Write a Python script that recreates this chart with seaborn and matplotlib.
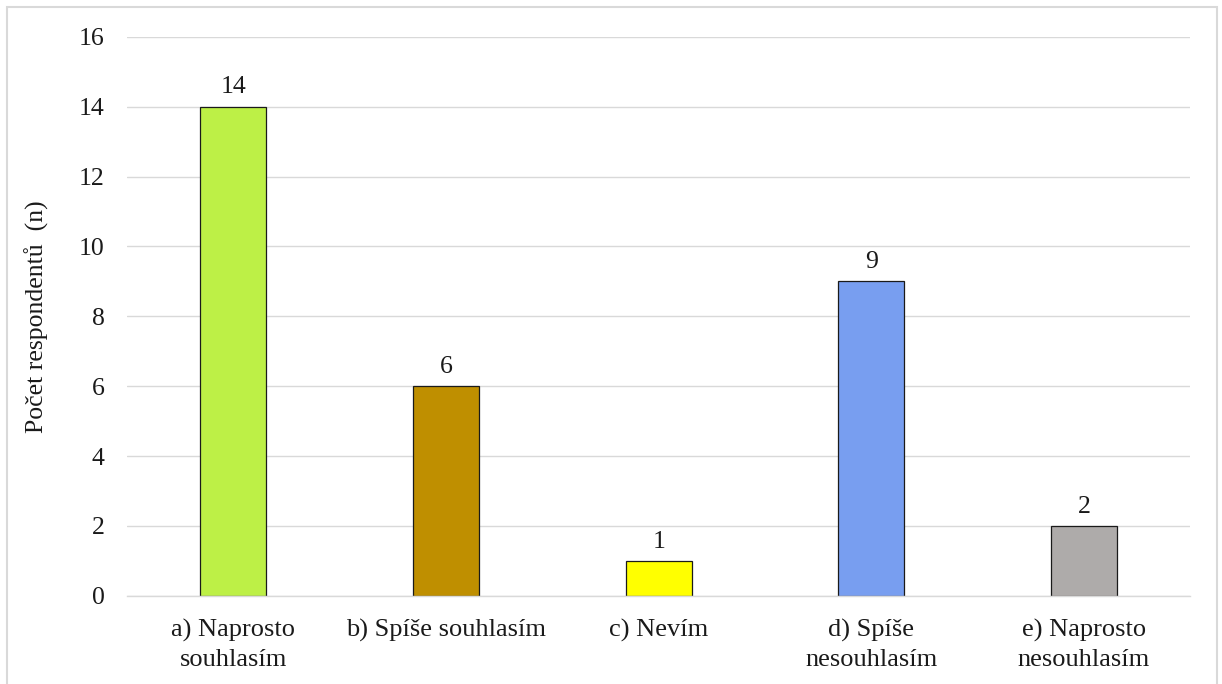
import matplotlib
matplotlib.use("Agg")
import matplotlib.pyplot as plt
import seaborn as sns
import pandas as pd
from matplotlib.patches import Rectangle

categories = [
    "a) Naprosto\nsouhlasím",
    "b) Spíše souhlasím",
    "c) Nevím",
    "d) Spíše\nnesouhlasím",
    "e) Naprosto\nnesouhlasím",
]
counts = [14, 6, 1, 9, 2]
colors = ["#BDF046", "#BF8F00", "#FFFF00", "#789EF0", "#AEABAA"]
y_ticks = [0, 2, 4, 6, 8, 10, 12, 14, 16]

sns.set_theme(style="white")
plt.rcParams["font.family"] = ["Liberation Serif", "DejaVu Serif"]

df = pd.DataFrame({"kategorie": categories, "pocet": counts})

fig = plt.figure(figsize=(12.22, 6.84), dpi=100)
ax = fig.add_axes([0.104, 0.129, 0.870, 0.817])

sns.barplot(
    data=df, x="kategorie", y="pocet", hue="kategorie",
    palette=colors, legend=False, width=0.31,
    edgecolor="#1a1a1a", linewidth=0.9, saturation=1, ax=ax,
)

for container in ax.containers:
    ax.bar_label(container, fmt="%d", padding=6, fontsize=18.5, color="#1a1a1a")

ax.set_ylim(0, 16)
ax.set_yticks(y_ticks)
ax.set_xlim(-0.5, len(categories) - 0.5)
ax.yaxis.grid(True, color="#D9D9D9", linewidth=1)
ax.set_axisbelow(True)
for side in ["left", "right", "top"]:
    ax.spines[side].set_visible(False)
ax.spines["bottom"].set_color("#D9D9D9")
ax.spines["bottom"].set_linewidth(1)

ax.tick_params(axis="y", length=0, pad=16, labelsize=18.5, labelcolor="#1a1a1a")
ax.tick_params(axis="x", length=0, pad=17, labelsize=19, labelcolor="#1a1a1a")
for lbl in ax.get_xticklabels():
    lbl.set_linespacing(1.4)
ax.set_xlabel("")
ax.set_ylabel("Počet respondentů  (n)", fontsize=18.5, color="#1a1a1a", labelpad=22)

# light frame around the chart area
fig.patches.append(Rectangle((7 / 1222, -0.05), 1210 / 1222, 1 - 7 / 684 + 0.05,
                             transform=fig.transFigure, fill=False,
                             edgecolor="#D9D9D9", linewidth=1.5))

fig.savefig("out.png", dpi=100)
